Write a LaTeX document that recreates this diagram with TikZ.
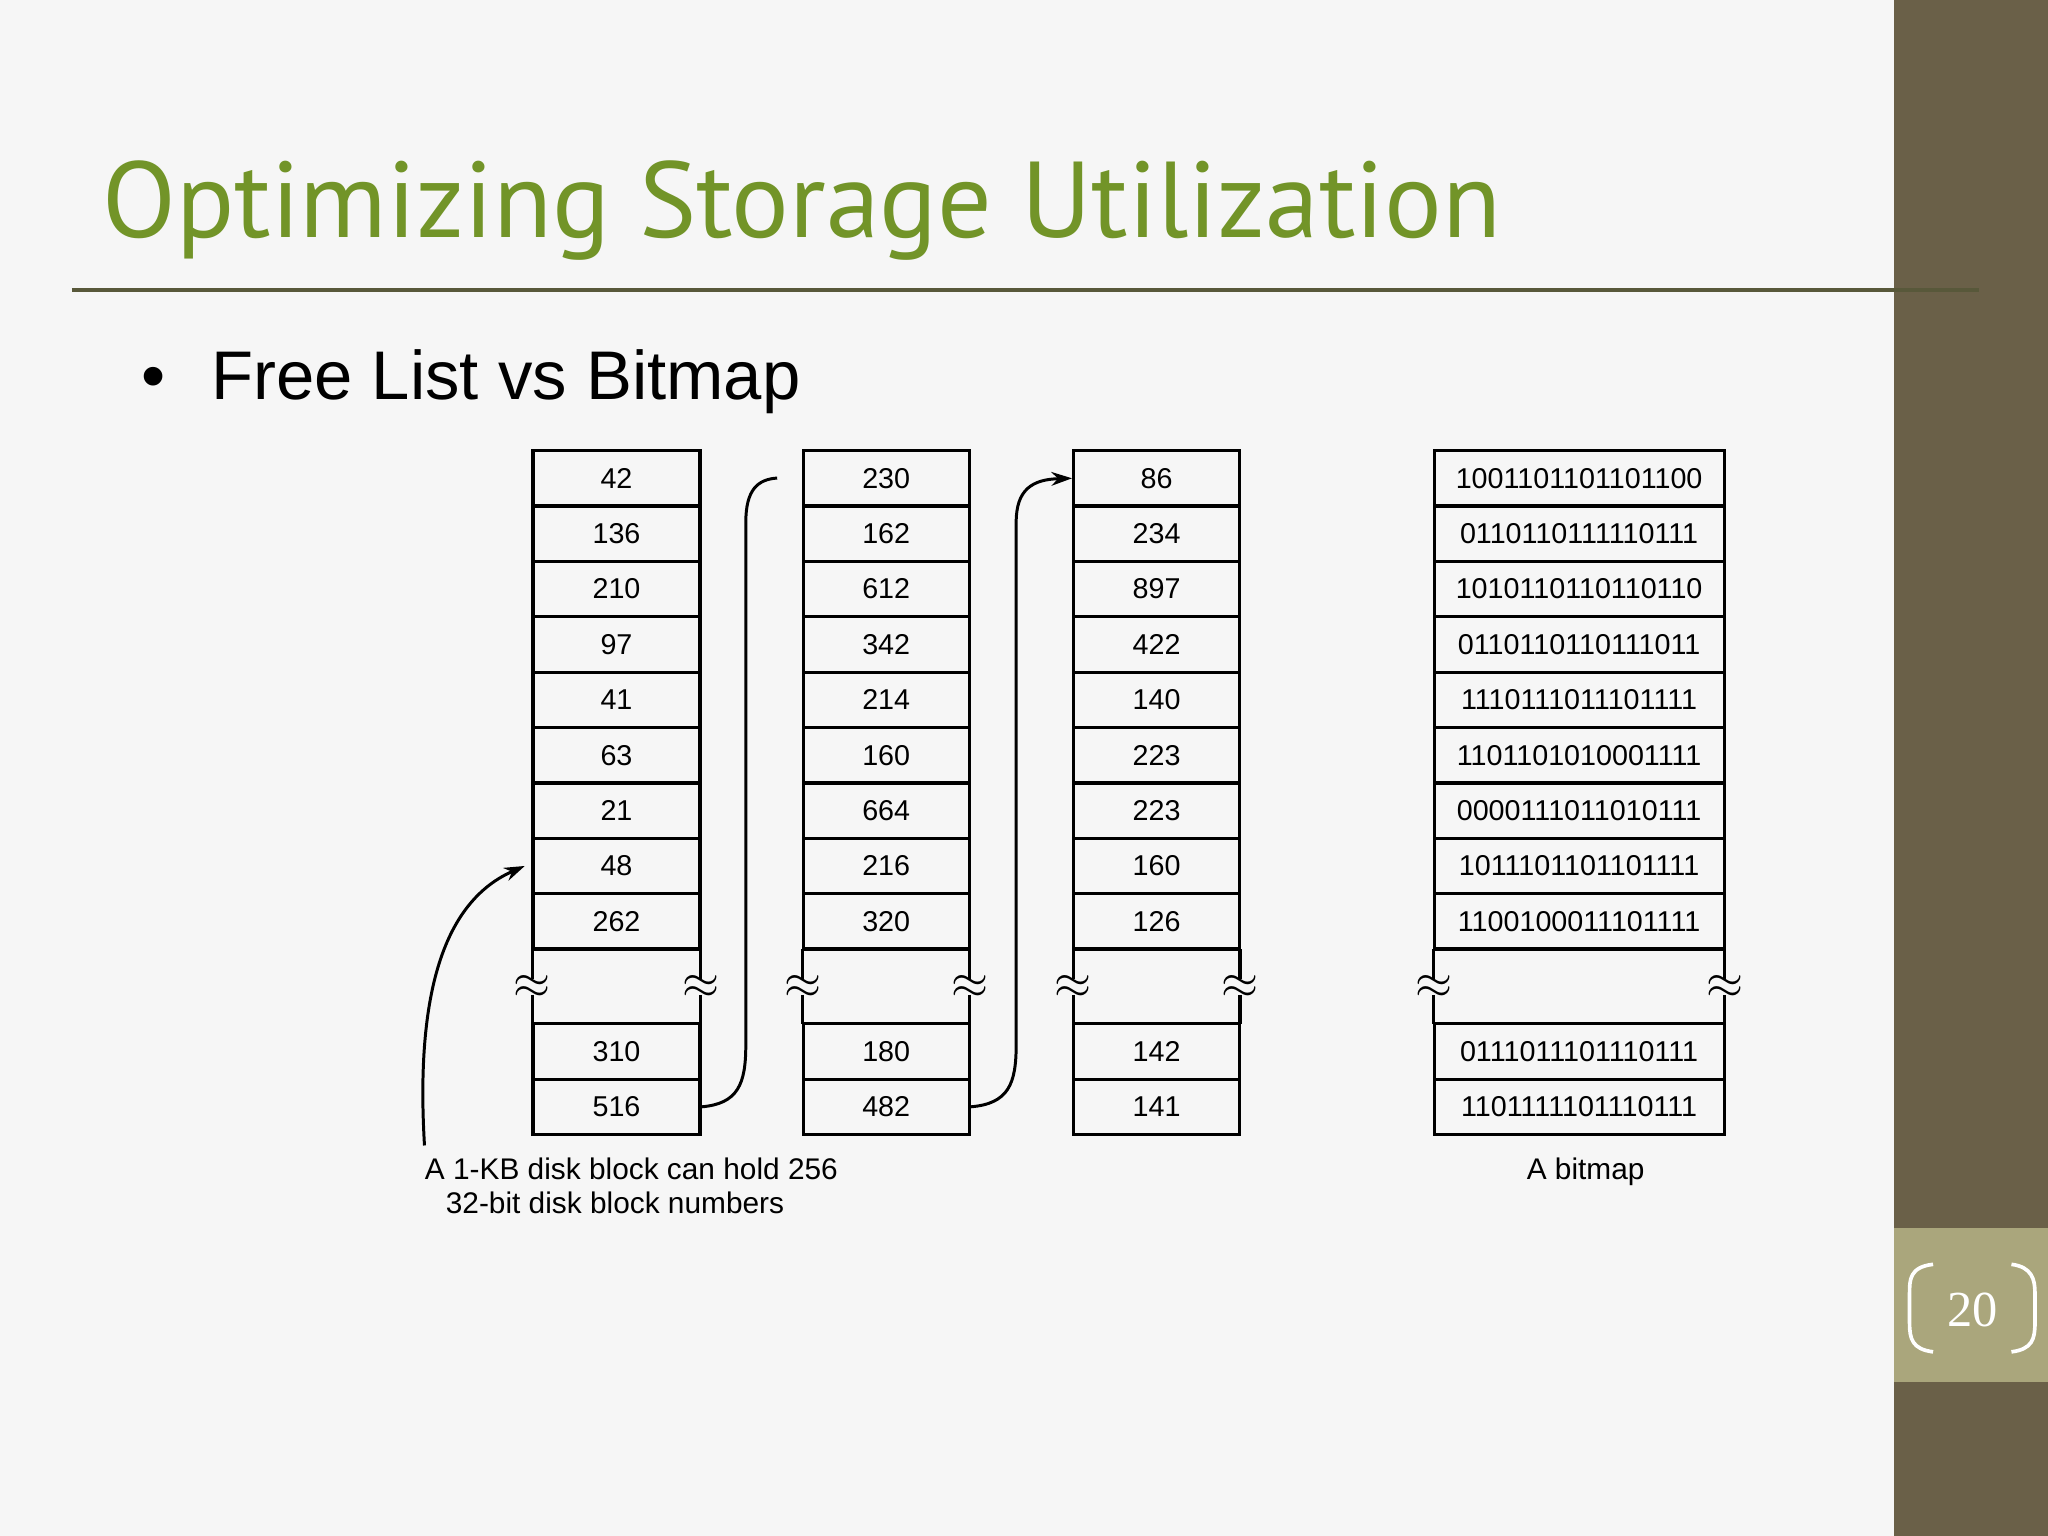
\documentclass[tikz,border=0pt]{standalone}
\usepackage{fontspec}
\setmainfont{Liberation Sans}
\newfontfamily\titlefont{PT Sans}
\newfontfamily\numfont{Liberation Serif}
\usetikzlibrary{arrows.meta}
\definecolor{bar}{RGB}{106,96,72}
\definecolor{numbox}{RGB}{170,166,124}
\definecolor{ttl}{RGB}{114,148,40}
\definecolor{rulec}{RGB}{88,88,58}
\definecolor{bg}{RGB}{246,246,246}
\begin{document}
\begin{tikzpicture}[x=0.02cm,y=-0.02cm,
  cell/.style={draw,line width=1.4pt,minimum height=42.4*0.02cm,inner sep=0,font=\fontsize{12.5}{12.5}\selectfont},
  gapc/.style={draw=none,minimum height=57*0.02cm,inner sep=0},
  brk/.style={inner sep=0,font=\fontsize{20}{20}\selectfont},
  link/.style={line width=1.3pt}]
\useasboundingbox (0,0) rectangle (1568,1176);
\fill[bg] (0,0) rectangle (1568,1176);
\fill[bar] (1450,0) rectangle (1568,1176);
\fill[numbox] (1450,940) rectangle (1568,1058);
\draw[white,line width=1.6pt] (1480,968) .. controls (1462,970) and (1462,980) .. (1462,990) -- (1462,1013) .. controls (1462,1025) and (1464,1033) .. (1480,1035);
\draw[white,line width=1.6pt] (1540,968) .. controls (1556,970) and (1558,980) .. (1558,990) -- (1558,1013) .. controls (1558,1025) and (1556,1033) .. (1540,1035);
\node[white,font=\numfont\fontsize{22}{22}\selectfont] (pg) at (1510,1003) {20};
\node[anchor=base west,text=ttl,inner sep=0,font=\titlefont\fontsize{47}{47}\selectfont] (title) at (78,182) {Optimizing Storage Utilization};
\draw[rulec,line width=1.7pt] (55,222) -- (1515,222);
\node[anchor=base west,inner sep=0,font=\fontsize{30}{30}\selectfont] (bul) at (108,306) {•\hspace{0.7cm}Free List vs Bitmap};
% columns
\foreach \c/\x/\w/\vals/\lastA/\lastB in {
  a/472/128/{42,136,210,97,41,63,21,48,262}/310/516,
  b/678.5/127/{230,162,612,342,214,160,664,216,320}/180/482,
  c/885.5/127/{86,234,897,422,140,223,223,160,126}/142/141,
  d/1209/222/{1001101101101100,0110110111110111,1010110110110110,0110110110111011,1110111011101111,1101101010001111,0000111011010111,1011101101101111,1100100011101111}/0111011101110111/1101111101110111}{
  \foreach \v [count=\i] in \vals {
    \node[cell,minimum width=\w*0.02cm] (\c\i) at (\x,{345+21.2+(\i-1)*42.4}) {\v};
  }
  \node[gapc,minimum width=\w*0.02cm] (\c g) at (\x,755.5) {};
  \draw[line width=1.4pt] (\c g.north west) -- (\c g.south west) (\c g.north east) -- (\c g.south east);
  \fill[bg] ([xshift=-9*0.02cm,yshift=-6*0.02cm]\c g.west) rectangle ([xshift=9*0.02cm,yshift=6*0.02cm]\c g.west);
  \fill[bg] ([xshift=-9*0.02cm,yshift=-6*0.02cm]\c g.east) rectangle ([xshift=9*0.02cm,yshift=6*0.02cm]\c g.east);
  \node[brk] at (\c g.west) {$\approx$};
  \node[brk] at (\c g.east) {$\approx$};
  \node[cell,minimum width=\w*0.02cm] (\c10) at (\x,805) {\lastA};
  \node[cell,minimum width=\w*0.02cm] (\c11) at (\x,847.4) {\lastB};
}
\coordinate (freeA) at (595,366);
\coordinate (tail) at (325,877);
\draw[link] (a11.east) .. controls (565,845) and (571,830) .. (571,800) -- (571,400) .. controls (571,375) and (580,367) .. (freeA);
\draw[line width=1.3pt,-{Stealth[length=9pt,width=6pt]}] (b11.east) .. controls (772,845) and (778,830) .. (778,800) -- (778,400) .. controls (778,375) and (790,367) .. (c1.west);
\draw[line width=1.3pt,-{Stealth[length=9pt,width=6pt]}] (tail) .. controls (318,760) and (340,690) .. ([xshift=-5*0.02cm]a8.west);
\node[anchor=base west,inner sep=0,font=\fontsize{13}{13}\selectfont] (cap1) at (325,903) {A 1-KB disk block can hold 256};
\node[anchor=base west,inner sep=0,font=\fontsize{13}{13}\selectfont] (cap2) at (341,929) {32-bit disk block numbers};
\node[anchor=base,inner sep=0,font=\fontsize{13}{13}\selectfont] (cap3) at (1214,903) {A bitmap};
\end{tikzpicture}
\end{document}
